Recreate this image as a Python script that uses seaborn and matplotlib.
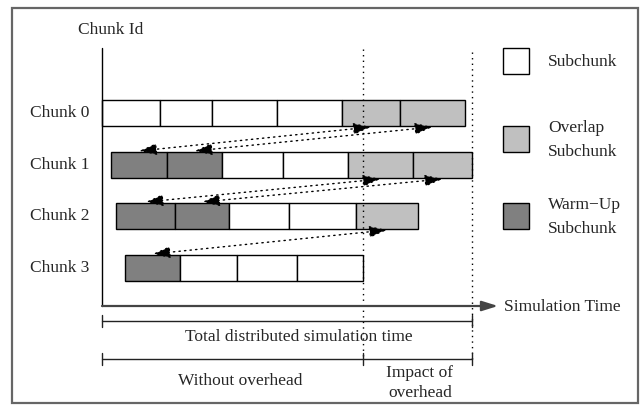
import numpy as np
import matplotlib
matplotlib.use('Agg')
import matplotlib.pyplot as plt
import seaborn as sns
from matplotlib.patches import Rectangle

# chunk rows and their subchunk boundaries (time units = drawing units)
chunk_names = ['Chunk 0', 'Chunk 1', 'Chunk 2', 'Chunk 3']
chunk_rows = [113, 165, 216, 268]
chunk_edges = [
    [102, 160, 212, 277, 342, 400, 465],
    [111, 167, 222, 283, 348, 413, 472],
    [116, 175, 229, 289, 356, 418],
    [125, 180, 237, 297, 363],
]
chunk_kinds = [
    ['S', 'S', 'S', 'S', 'O', 'O'],
    ['W', 'W', 'S', 'S', 'O', 'O'],
    ['W', 'W', 'S', 'S', 'O'],
    ['W', 'S', 'S', 'S'],
]
kind_colors = {'S': 'white', 'O': '#c0c0c0', 'W': '#808080'}

legend_kinds = ['S', 'O', 'W']
legend_labels = ['Subchunk', 'Overlap\nSubchunk', 'Warm\u2212Up\nSubchunk']

t_start = 102
t_no_overhead = 363
t_total = 472

sns.set_theme(style='white')
plt.rcParams['font.family'] = ['Liberation Serif', 'DejaVu Serif']

fig = plt.figure(figsize=(6.42, 4.05), dpi=100)
ax = fig.add_axes([0, 0, 1, 1])
ax.set_xlim(0, 642)
ax.set_ylim(405, 0)
ax.axis('off')

fs = 12.5
bar_h = 26

# outer frame
ax.add_patch(Rectangle((12, 8), 626, 395, fill=False, edgecolor='#666666', lw=1.6))

# subchunk bars
for name, y, edges, kinds in zip(chunk_names, chunk_rows, chunk_edges, chunk_kinds):
    edges = np.array(edges)
    ax.barh([y] * len(kinds), np.diff(edges), left=edges[:-1], height=bar_h,
            color=[kind_colors[k] for k in kinds], edgecolor='black', lw=1)
    ax.text(89, y, name, ha='right', va='center', fontsize=fs)

# dotted arrows: overlap subchunks of one chunk -> warm-up subchunks of the next
for i in range(len(chunk_names) - 1):
    e0 = np.array(chunk_edges[i])
    e1 = np.array(chunk_edges[i + 1])
    mid0 = (e0[:-1] + e0[1:]) / 2
    mid1 = (e1[:-1] + e1[1:]) / 2
    ov = [m for m, k in zip(mid0, chunk_kinds[i]) if k == 'O']
    wu = [m for m, k in zip(mid1, chunk_kinds[i + 1]) if k == 'W']
    for xa, xb in zip(ov, wu):
        ax.annotate('', xy=(xb, chunk_rows[i + 1] - bar_h / 2 - 1),
                    xytext=(xa, chunk_rows[i] + bar_h / 2 + 1),
                    arrowprops=dict(arrowstyle='<|-|>,head_length=0.9,head_width=0.3',
                                    linestyle=(0, (1, 3)), color='black', lw=1,
                                    shrinkA=0, shrinkB=0))

# axes
ax.plot([t_start, t_start], [48, 306], color='black', lw=1)
ax.annotate('', xy=(498, 306), xytext=(t_start, 306),
            arrowprops=dict(arrowstyle='-|>,head_length=0.8,head_width=0.25',
                            color='#444444', lw=1.6, shrinkA=0, shrinkB=0))
ax.text(111, 30, 'Chunk Id', ha='center', va='center', fontsize=fs)
ax.text(504, 307, 'Simulation Time', ha='left', va='center', fontsize=fs)

# dotted time markers
ax.plot([t_no_overhead, t_no_overhead], [49, 359], color='black', lw=1, ls=(0, (1, 3)))
ax.plot([t_total, t_total], [52, 359], color='black', lw=1, ls=(0, (1, 3)))

# brackets
def bracket(y, ticks):
    ax.plot([ticks[0], ticks[-1]], [y, y], color='#222222', lw=1)
    for t in ticks:
        ax.plot([t, t], [y - 6, y + 6], color='#222222', lw=1)

bracket(321, [t_start, t_total])
bracket(359, [t_start, t_no_overhead, t_total])
ax.text(299, 337, 'Total distributed simulation time', ha='center', va='center', fontsize=fs)
ax.text(240, 381, 'Without overhead', ha='center', va='center', fontsize=fs)
ax.text(420, 383, 'Impact of\noverhead', ha='center', va='center', fontsize=fs, linespacing=1.3)

# legend
legend_rows = [61, 139, 216]
for k, lab, y in zip(legend_kinds, legend_labels, legend_rows):
    ax.barh([y], [26], left=[503], height=26, color=kind_colors[k], edgecolor='black', lw=1)
    ax.text(548, y + 1, lab, ha='left', va='center', fontsize=fs, linespacing=1.65)

fig.savefig('out.png', dpi=100)
